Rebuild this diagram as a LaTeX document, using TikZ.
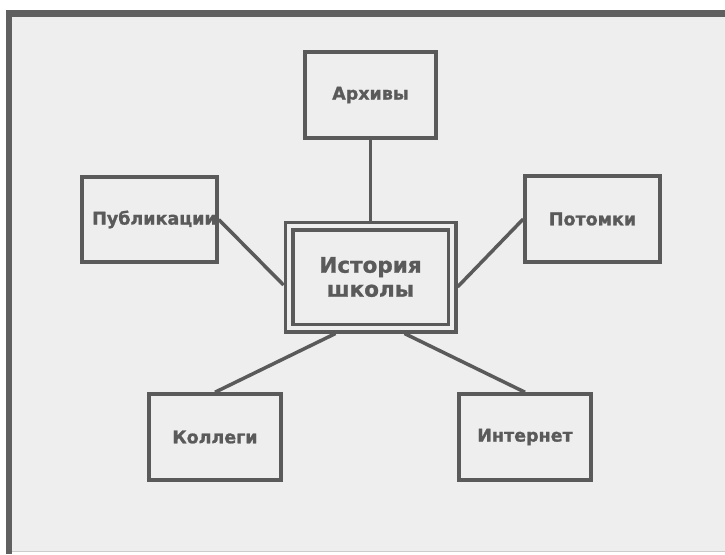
\documentclass[tikz,border=0pt]{standalone}
\usepackage{fontspec}
\setmainfont{DejaVu Sans}[BoldFeatures={FakeBold=1.2}]
\definecolor{gris}{HTML}{5A5A5A}
\definecolor{fondo}{HTML}{EEEEEE}
\definecolor{marco}{HTML}{606060}
\tikzset{
  caja/.style={draw=gris,line width=3.5pt,rectangle,fill=fondo,text=gris,
    font=\fontsize{17.5}{20}\selectfont\bfseries,inner sep=0pt},
  enlace/.style={draw=gris,line width=3.5pt}
}
\begin{document}
\begin{tikzpicture}[x=1pt,y=-1pt]
        \useasboundingbox (0,0) rectangle (725,554);
        \fill[white] (0,0) rectangle (725,554);
        \fill[fondo] (6,10) rectangle (725,551);
        \fill[marco] (6,10) rectangle (725,17);
        \fill[marco] (6,10) rectangle (12,554);
        \draw[gray!40,line width=1pt] (12,551) -- (725,551);
        \node[caja,minimum width=131,minimum height=86] (arch) at (370.5,95) {Архивы};
        \node[caja,minimum width=135,minimum height=85] (pub) at (149.5,219.5) {\hspace*{10pt}Публикации};
        \node[caja,minimum width=135,minimum height=86] (pot) at (592.5,219) {Потомки};
        \node[caja,minimum width=132,minimum height=86] (kol) at (215,437) {Коллеги};
        \node[caja,minimum width=132,minimum height=86] (int) at (525,437) {Интернет};
        \node[caja,double=fondo,double distance=4pt,minimum width=163,minimum height=102,
          outer sep=5.5pt,align=center,font=\fontsize{21.5}{24}\selectfont\bfseries] (hist) at (370.5,277) {История\\школы};
        \draw[enlace] (arch) to (hist);
        \draw[enlace] (pub.east) to ([yshift=-8pt]hist.west);
        \draw[enlace] (pot.west) to ([yshift=-10pt]hist.east);
        \draw[enlace] (kol.north) to ([xshift=52pt]hist.south west);
        \draw[enlace] (int.north) to ([xshift=-53pt]hist.south east);
      \end{tikzpicture}
\end{document}
